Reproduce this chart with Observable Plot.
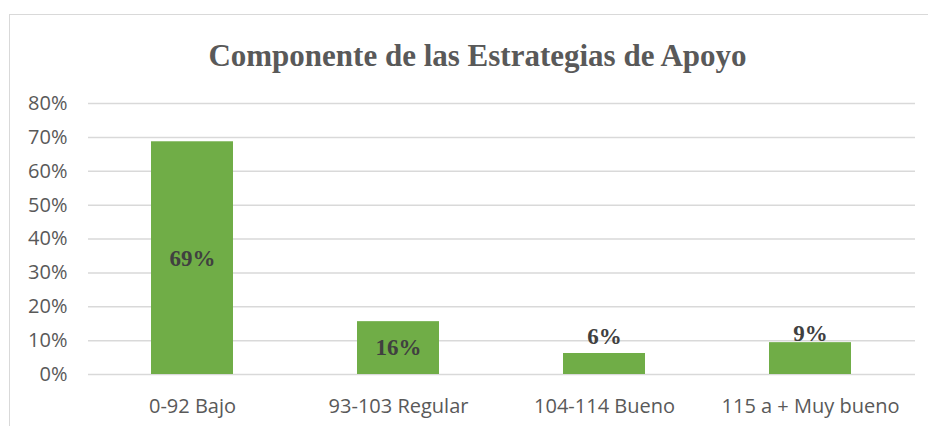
<!DOCTYPE html>
<html>
<head>
<meta charset="utf-8">
<script src="https://cdn.jsdelivr.net/npm/d3@7"></script>
<script src="https://cdn.jsdelivr.net/npm/@observablehq/plot@0.6"></script>
<style>
  html, body { margin: 0; padding: 0; background: #fff; }
  #wrap { position: relative; width: 928px; height: 426px; overflow: hidden; }
  #frame { position: absolute; left: 9px; top: 14px; width: 940px; height: 440px;
           border-top: 1.5px solid #d9d9d9; border-left: 1.5px solid #d9d9d9; }
  #title { position: absolute; left: 0; top: 40px; width: 955px; text-align: center;
           font-family: "Liberation Serif", "Times New Roman", serif; font-weight: bold;
           font-size: 31px; line-height: 1; color: #595959; }
  #chart { position: absolute; left: 0; top: 0; }
</style>
</head>
<body>
<div id="wrap">
  <div id="frame"></div>
  <div id="chart"></div>
  <div id="title">Componente de las Estrategias de Apoyo</div>
</div>
<script>
const categories = ["0-92 Bajo", "93-103 Regular", "104-114 Bueno", "115 a + Muy bueno"];
const values = [0.687, 0.156, 0.062, 0.094];
const yTicks = [0, 0.1, 0.2, 0.3, 0.4, 0.5, 0.6, 0.7, 0.8];

const data = categories.map((c, i) => ({category: c, value: values[i]}));
const pct = d3.format(".0%");
const inside = data.filter(d => d.value > 0.1);
const outside = data.filter(d => d.value <= 0.1);
const labelFont = "'Liberation Serif', 'Times New Roman', serif";
// outside labels sit just under the 10% line, or on top of the bar if it is taller
const labelFloor = 0.085;

const chart = Plot.plot({
  width: 928,
  height: 426,
  marginTop: 103,
  marginBottom: 52,
  marginLeft: 88,
  marginRight: 13,
  style: {fontFamily: "'Open Sans', sans-serif", fontSize: "20px", color: "#595959", background: "transparent"},
  x: {domain: categories, paddingInner: 0.6, paddingOuter: 0.3, label: null},
  y: {domain: [0, 0.8], label: null},
  marks: [
    Plot.gridY(yTicks, {stroke: "#d9d9d9", strokeOpacity: 1, strokeWidth: 1.5}),
    Plot.axisY(yTicks, {tickFormat: pct, tickSize: 0, tickPadding: 21, fontSize: 20, fill: "#595959", label: null}),
    Plot.axisX({tickSize: 0, tickPadding: 24, fontSize: 20, fill: "#595959", label: null}),
    Plot.barY(data, {x: "category", y: "value", fill: "#70ad47"}),
    Plot.text(inside, {x: "category", y: d => d.value / 2, text: d => pct(d.value),
      fontFamily: labelFont, fontWeight: "bold", fontSize: 23, fill: "#404040"}),
    Plot.text(outside, {x: "category", y: d => Math.max(d.value, labelFloor), text: d => pct(d.value),
      lineAnchor: "bottom", dy: -2,
      fontFamily: labelFont, fontWeight: "bold", fontSize: 23, fill: "#404040"})
  ]
});
document.getElementById("chart").appendChild(chart);
</script>
</body>
</html>
